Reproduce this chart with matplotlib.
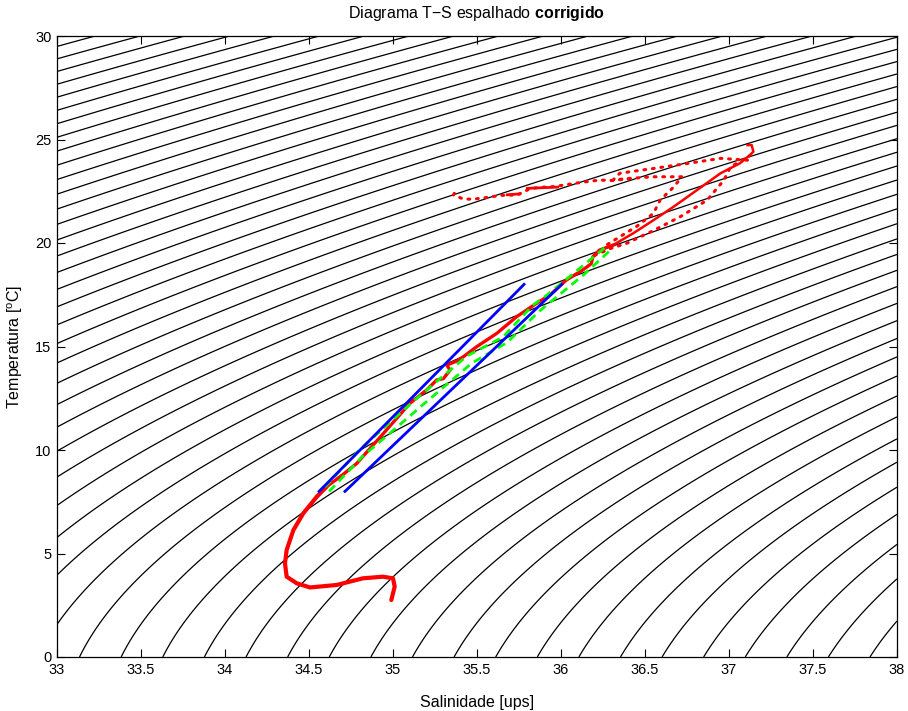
import numpy as np
import matplotlib
matplotlib.use("Agg")
import matplotlib.pyplot as plt

plt.rcParams['font.family'] = ['Liberation Sans', 'DejaVu Sans']
plt.rcParams['mathtext.fontset'] = 'custom'
plt.rcParams['mathtext.rm'] = 'Liberation Sans'
plt.rcParams['mathtext.bf'] = 'Liberation Sans:bold'

# axis ranges and ticks
s_lim = (33, 38)
t_lim = (0, 30)
x_ticks = [33, 33.5, 34, 34.5, 35, 35.5, 36, 36.5, 37, 37.5, 38]
x_tick_labels = ["33", "33.5", "34", "34.5", "35", "35.5", "36", "36.5", "37", "37.5", "38"]
y_ticks = [0, 5, 10, 15, 20, 25, 30]
sigma_levels = np.arange(19.8, 30.8, 0.2)

# profile: deep hook (solid)
deep_s = [34.99, 35.01, 35.00, 34.94, 34.82, 34.665, 34.506, 34.427, 34.367, 34.357, 34.367, 34.407, 34.466, 34.546, 34.605]
deep_t = [2.75, 3.40, 3.80, 3.88, 3.80, 3.48, 3.36, 3.56, 3.88, 4.52, 5.17, 6.13, 6.94, 7.74, 8.23]

# profile: thermocline (solid)
thermo_s = [34.605, 34.70, 34.784, 34.943, 35.10, 35.20, 35.26, 35.30, 35.34, 35.32, 35.38, 35.418, 35.498, 35.617, 35.736, 35.855, 35.935, 36.03, 36.13, 36.18, 36.19, 36.23, 36.31]
thermo_t = [8.23, 8.80, 9.35, 10.8, 12.25, 12.9, 13.38, 13.45, 13.86, 14.10, 14.30, 14.5, 14.99, 15.63, 16.44, 17.09, 17.49, 18.2, 18.7, 19.0, 19.34, 19.66, 19.9]

# profile: upper strand towards the salinity maximum (solid)
upper_s = [36.31, 36.43, 36.55, 36.67, 36.81, 36.95, 37.065, 37.125, 37.145, 37.135, 37.11]
upper_t = [19.9, 20.47, 21.1, 21.75, 22.56, 23.37, 23.85, 24.25, 24.41, 24.73, 24.73]

# profile: lower dotted strand
lower_s = [36.20, 36.30, 36.39, 36.55, 36.71, 36.87, 36.97, 37.01, 37.07, 37.12]
lower_t = [19.4, 19.75, 19.98, 20.6, 21.27, 22.07, 23.04, 23.69, 23.95, 24.2]

# profile: dotted zig-zag near the surface
zig_s = [37.11, 36.95, 36.75, 36.55, 36.35, 36.31, 36.39, 36.55, 36.72, 36.67, 36.59, 36.55, 36.45, 36.35, 36.25]
zig_t = [24.0, 24.09, 23.84, 23.6, 23.37, 23.04, 23.11, 23.2, 23.2, 22.7, 22.07, 21.43, 20.8, 20.3, 19.8]

# profile: surface layer drifting to lower salinity (dotted)
surf_s = [36.41, 36.30, 36.23, 36.15, 36.08, 36.02, 35.95, 35.90, 35.82, 35.74, 35.64, 35.56, 35.48, 35.42, 35.36, 35.37, 35.35]
surf_t = [23.1, 23.02, 23.04, 22.96, 22.88, 22.8, 22.72, 22.7, 22.64, 22.32, 22.3, 22.2, 22.12, 22.12, 22.32, 22.48, 22.56]

# short solid pieces in the surface layer
surf_seg1_s = [35.80, 35.98]
surf_seg1_t = [22.64, 22.70]
surf_seg2_s = [35.68, 35.75]
surf_seg2_t = [22.33, 22.37]

# reference water-mass curve (green) and its envelope (blue)
ref_s = [34.595, 34.80, 34.952, 35.143, 35.44, 35.655, 35.833, 35.917, 36.10, 36.28]
ref_t = [8.21, 10.0, 11.11, 12.51, 14.54, 15.46, 17.0, 17.49, 18.7, 19.9]
ref2_s = [34.62, 34.82, 34.98, 35.18, 35.47, 35.68, 35.87, 35.96, 36.14, 36.30]
ref2_t = [8.0, 9.7, 10.8, 12.2, 14.2, 15.2, 16.7, 17.3, 18.5, 19.7]
env_left_s = [34.56, 35.78]
env_left_t = [8.0, 18.0]
env_right_s = [34.714, 36.004]
env_right_t = [8.0, 18.0]


def sigma_t(S, T):
    """Density anomaly at the surface (UNESCO EOS-80)."""
    rho_w = (999.842594 + 6.793952e-2 * T - 9.095290e-3 * T**2 + 1.001685e-4 * T**3
             - 1.120083e-6 * T**4 + 6.536332e-9 * T**5)
    A = 0.824493 - 4.0899e-3 * T + 7.6438e-5 * T**2 - 8.2467e-7 * T**3 + 5.3875e-9 * T**4
    B = -5.72466e-3 + 1.0227e-4 * T - 1.6546e-6 * T**2
    C = 4.8314e-4
    return rho_w + A * S + B * S**1.5 + C * S**2 - 1000.0


fig = plt.figure(figsize=(9.08, 7.11), dpi=100)
ax = fig.add_axes([57 / 908, 54 / 711, 840 / 908, 621 / 711])

sg, tg = np.meshgrid(np.linspace(*s_lim, 400), np.linspace(*t_lim, 400))
ax.contour(sg, tg, sigma_t(sg, tg), levels=sigma_levels, colors='k', linewidths=0.9)

red = (1, 0, 0)
dot = dict(color=red, linestyle=(0, (0.6, 2.2)), linewidth=2.2, dash_capstyle='round')
ax.plot(deep_s, deep_t, color=red, linewidth=3.0, solid_capstyle='round', solid_joinstyle='round')
ax.plot(thermo_s, thermo_t, color=red, linewidth=2.4, solid_joinstyle='round')
ax.plot(upper_s, upper_t, color=red, linewidth=1.8, solid_joinstyle='round')
ax.plot(lower_s, lower_t, **dot)
ax.plot(zig_s, zig_t, **dot)
ax.plot(surf_s, surf_t, **dot)
ax.plot(surf_seg1_s, surf_seg1_t, color=red, linewidth=2.0)
ax.plot(surf_seg2_s, surf_seg2_t, color=red, linewidth=2.0)

ax.plot(ref_s, ref_t, color=(0, 1, 0), linestyle=(0, (3, 2)), linewidth=2.0)
ax.plot(ref2_s, ref2_t, color=(0, 1, 0), linestyle=(0, (3, 2)), linewidth=2.0)
ax.plot(env_left_s, env_left_t, color=(0, 0, 1), linewidth=2.0)
ax.plot(env_right_s, env_right_t, color=(0, 0, 1), linewidth=2.0)

ax.set_xlim(*s_lim)
ax.set_ylim(*t_lim)
ax.set_xticks(x_ticks)
ax.set_xticklabels(x_tick_labels)
ax.set_yticks(y_ticks)
ax.tick_params(direction='in', top=True, right=True, length=6, width=0.8, labelsize=10.5)
ax.tick_params(axis='x', pad=4)
ax.tick_params(axis='y', pad=4)
for sp in ax.spines.values():
    sp.set_linewidth(0.9)

ax.set_xlabel("Salinidade [ups]", fontsize=11.5, labelpad=13)
ax.set_ylabel(r"Temperatura [$^\mathrm{o}$C]", fontsize=11.5)
ax.yaxis.set_label_coords(-(57 - 25) / 840, 0.5)
ax.set_title(r"Diagrama T$-$S espalhado $\mathbf{corrigido}$", fontsize=11.5, pad=13)

fig.savefig("out.png", dpi=100)
